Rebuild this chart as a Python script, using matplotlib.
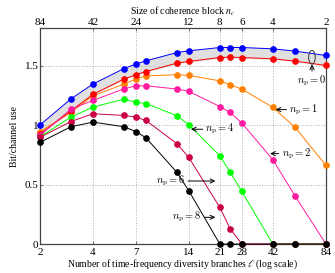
import matplotlib
matplotlib.use("Agg")
import matplotlib.pyplot as plt
from matplotlib.patches import Ellipse

plt.rcParams["font.family"] = ["Liberation Serif", "DejaVu Serif"]
plt.rcParams["mathtext.fontset"] = "stix"
plt.rcParams["font.size"] = 7

# diversity branches (divisors of 168)
ell = [2, 3, 4, 6, 7, 8, 12, 14, 21, 24, 28, 42, 56, 84]

np0_upper = [1.00, 1.22, 1.345, 1.475, 1.513, 1.54, 1.61, 1.624, 1.652, 1.652, 1.652, 1.641, 1.622, 1.585]
np0_lower = [0.925, 1.12, 1.258, 1.387, 1.423, 1.45, 1.521, 1.535, 1.568, 1.571, 1.568, 1.557, 1.538, 1.501]
np1 = [0.944, 1.106, 1.245, 1.345, 1.387, 1.414, 1.423, 1.417, 1.372, 1.339, 1.303, 1.148, 0.983, 0.661]
np2 = [0.913, 1.134, 1.207, 1.305, 1.33, 1.33, 1.303, 1.283, 1.156, 1.106, 1.017, 0.708, 0.406, 0.0]
np4 = [0.90, 1.067, 1.151, 1.218, 1.193, 1.181, 1.078, 1.003, 0.742, 0.605, 0.442, 0.0, 0.0, 0.0]
np6 = [0.896, 1.03, 1.095, 1.081, 1.067, 1.039, 0.843, 0.728, 0.308, 0.129, 0.0, 0.0, 0.0, 0.0]
np8 = [0.854, 0.986, 1.025, 0.986, 0.946, 0.893, 0.602, 0.448, 0.0, 0.0, 0.0, 0.0, 0.0, 0.0]

bottom_ticks = [2, 4, 7, 14, 21, 28, 42, 84]
top_labels = [84, 42, 24, 12, 8, 6, 4, 2]

fig = plt.figure(figsize=(3.35, 2.73), dpi=100)
ax = fig.add_axes([0.119, 0.106, 0.854, 0.791])

ax.fill_between(ell, np0_lower, np0_upper, color="#e0e0e0", zorder=1)

series = [
    (np0_upper, "#0000ff"),
    (np1, "#ff8000"),
    (np0_lower, "#ff0000"),
    (np2, "#ff1aa0"),
    (np4, "#00ff00"),
    (np6, "#cc0044"),
    (np8, "black"),
]
for vals, col in series:
    ax.plot(ell, vals, "-o", color=col, lw=0.7, ms=3.8, zorder=3, clip_on=False)

ax.set_xscale("log")
ax.set_xlim(2, 84)
ax.set_ylim(0, 1.815)
ax.set_xticks(bottom_ticks)
ax.set_xticklabels([str(t) for t in bottom_ticks])
ax.xaxis.set_minor_locator(matplotlib.ticker.NullLocator())
ax.set_yticks([0, 0.5, 1, 1.5])
ax.set_yticklabels(["0", "0.5", "1", "1.5"])
ax.tick_params(labelsize=8, length=2, width=0.5, pad=1, direction="in", color="#444444")
ax.tick_params(axis="x", pad=2.5)
ax.grid(True, ls=":", color="#b0b0b0", lw=0.7)
for sp in ax.spines.values():
    sp.set_color("#444444")
    sp.set_linewidth(0.9)

ax.set_xlabel(r"Number of time-frequency diversity branches $\ell$ (log scale)", labelpad=0.5)
ax.set_ylabel("Bit/channel use", labelpad=4)

top = ax.twiny()
top.set_xscale("log")
top.set_xlim(2, 84)
top.set_xticks(bottom_ticks)
top.set_xticklabels([str(t) for t in top_labels])
top.xaxis.set_minor_locator(matplotlib.ticker.NullLocator())
top.tick_params(labelsize=8, length=2, width=0.5, pad=1, direction="in", color="#444444")
top.set_xlabel(r"Size of coherence block $n_c$", labelpad=2)
for sp in top.spines.values():
    sp.set_visible(False)

# annotations
ax.add_patch(Ellipse((70, 1.57), 6.0, 0.115, fill=False, lw=0.7, color="#333333", zorder=4))
arrow = dict(arrowstyle="->", lw=0.7, color="black", shrinkA=0, shrinkB=0)
lab = dict(va="center", arrowprops=arrow, fontsize=7.5, math_fontfamily="cm")
ax.annotate(r"$n_\mathrm{p} = 0$", xy=(70, 1.51), xytext=(70, 1.37), ha="center", **lab)
ax.annotate(r"$n_\mathrm{p} = 1$", xy=(43.5, 1.13), xytext=(52, 1.13), ha="left", **lab)
ax.annotate(r"$n_\mathrm{p} = 4$", xy=(14.4, 0.965), xytext=(17.4, 0.965), ha="left", **lab)
ax.annotate(r"$n_\mathrm{p} = 2$", xy=(40.5, 0.76), xytext=(47, 0.76), ha="left", **lab)
ax.annotate(r"$n_\mathrm{p} = 6$", xy=(19.8, 0.53), xytext=(13.4, 0.53), ha="right", **lab)
ax.annotate(r"$n_\mathrm{p} = 8$", xy=(19.8, 0.225), xytext=(16.6, 0.225), ha="right", **lab)

fig.savefig("out.png", dpi=100)
